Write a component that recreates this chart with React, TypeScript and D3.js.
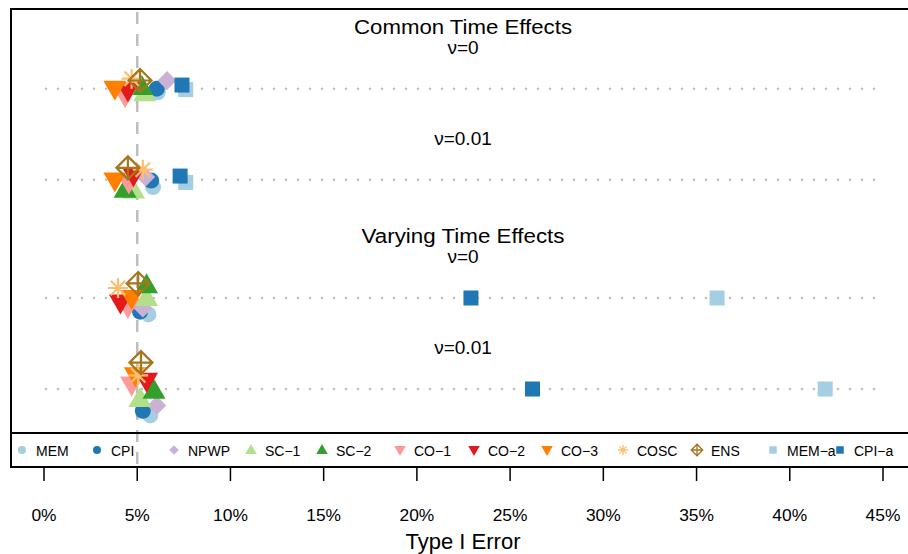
import React from "react";
import * as d3 from "d3";

// methods in legend / drawing order
const methods = ["MEM", "CPI", "NPWP", "SC-1", "SC-2", "CO-1", "CO-2", "CO-3", "COSC", "ENS", "MEM-a", "CPI-a"];
const colors = ["#A6CEE3", "#1F78B4", "#CAB2D6", "#B2DF8A", "#33A02C", "#FB9A99", "#E31A1C", "#FF7F00", "#FDBF6F", "#A6761D", "#A6CEE3", "#1F78B4"];
const shapes = ["circle", "circle", "diamond", "up", "up", "down", "down", "down", "star", "ens", "square", "square"];

// settings (rows), top to bottom
const rowLabels = ["ν=0", "ν=0.01", "ν=0", "ν=0.01"];
const rowPos = [4.3, 3.3, 2, 1];
const groupTitles = ["Common Time Effects", "", "Varying Time Effects", ""];

// type I error (%) per row, per method
const errCommon0 = [6.1, 6.05, 6.6, 5.4, 5.25, 4.35, 4.5, 3.8, 4.7, 5.15, 7.6, 7.4];
const errCommon001 = [5.85, 5.75, 5.45, 4.8, 4.35, 4.55, 4.8, 3.8, 5.3, 4.5, 7.6, 7.3];
const errVarying0 = [5.6, 5.15, 5.3, 5.5, 5.5, 4.5, 4.1, 4.7, 3.97, 5.05, 36.1, 22.9];
const errVarying001 = [5.7, 5.3, 6.05, 5.15, 5.9, 4.7, 5.5, 4.9, 5.05, 5.2, 41.9, 26.2];
const errors = [errCommon0, errCommon001, errVarying0, errVarying001];

// vertical jitter (row units, positive = down)
const jitCommon0 = [0.04, 0, -0.09, 0.05, -0.02, 0.08, 0.02, 0, -0.11, -0.09, 0.01, -0.04];
const jitCommon001 = [0.08, 0.01, -0.03, 0.12, 0.11, 0.03, -0.05, 0.01, -0.11, -0.13, 0.03, -0.04];
const jitVarying0 = [0.18, 0.15, 0.11, 0, -0.14, 0.1, 0.05, 0, -0.11, -0.16, 0, 0];
const jitVarying001 = [0.29, 0.24, 0.18, 0.11, 0.02, -0.05, -0.09, -0.15, -0.15, -0.29, 0, 0];
const jitters = [jitCommon0, jitCommon001, jitVarying0, jitVarying001];

const xTicks = [0, 5, 10, 15, 20, 25, 30, 35, 40, 45];
const legendX = [22, 97, 174, 251, 322, 400, 474, 547, 623, 697, 773, 840];
const titleWidths = [218, 0, 203, 0];

const W = 908;
const H = 554;
const FONT = "'Liberation Sans', Arial, Helvetica, sans-serif";

const x = d3.scaleLinear().domain([0, 45]).range([44, 883]);
const y = d3.scaleLinear().domain([1, 2]).range([389, 298]);

function Marker({ shape, color, cx, cy, s }: { shape: string; color: string; cx: number; cy: number; s: number }) {
  switch (shape) {
    case "circle":
      return <circle cx={cx} cy={cy} r={8 * s} fill={color} />;
    case "square":
      return <rect x={cx - 7.5 * s} y={cy - 7.5 * s} width={15 * s} height={15 * s} fill={color} />;
    case "diamond": {
      const r = 9.5 * s;
      return <path d={`M${cx},${cy - r}L${cx + r},${cy}L${cx},${cy + r}L${cx - r},${cy}Z`} fill={color} />;
    }
    case "up": {
      const w = 11.5 * s;
      const h = 20 * s;
      return <path d={`M${cx},${cy - h * 0.6}L${cx + w},${cy + h * 0.4}L${cx - w},${cy + h * 0.4}Z`} fill={color} />;
    }
    case "down": {
      const w = 11.5 * s;
      const h = 20 * s;
      return <path d={`M${cx},${cy + h * 0.6}L${cx + w},${cy - h * 0.4}L${cx - w},${cy - h * 0.4}Z`} fill={color} />;
    }
    case "star": {
      const r = 10 * s;
      const d = r * 0.72;
      return (
        <path
          d={`M${cx - r},${cy}L${cx + r},${cy}M${cx},${cy - r}L${cx},${cy + r}M${cx - d},${cy - d}L${cx + d},${cy + d}M${cx - d},${cy + d}L${cx + d},${cy - d}`}
          stroke={color}
          strokeWidth={2.2 * Math.max(s, 0.6)}
          fill="none"
        />
      );
    }
    case "ens": {
      const r = 11.5 * s;
      return (
        <path
          d={`M${cx},${cy - r}L${cx + r},${cy}L${cx},${cy + r}L${cx - r},${cy}ZM${cx - r},${cy}L${cx + r},${cy}M${cx},${cy - r}L${cx},${cy + r}`}
          stroke={color}
          strokeWidth={2.2 * Math.max(s, 0.6)}
          fill="none"
        />
      );
    }
    default:
      return null;
  }
}

export default function App() {
  const rows = errors.map((errs, r) => ({ errs, jit: jitters[r], pos: rowPos[r] }));
  return (
    <svg width={W} height={H} style={{ position: "absolute", left: 0, top: 0, background: "#fff" }} fontFamily={FONT}>
      <rect width={W} height={H} fill="#fff" />
      {/* reference line at nominal 5% */}
      <line x1={x(5)} x2={x(5)} y1={9} y2={467} stroke="#BEBEBE" strokeWidth={2.5} strokeDasharray="12,10" strokeDashoffset={-3} />

      {/* row guides */}
      {rowPos.map((p, i) => (
        <line key={i} x1={x(0) + 2} x2={x(45)} y1={y(p)} y2={y(p)} stroke="#BEBEBE" strokeWidth={2.6} strokeLinecap="round" strokeDasharray="0,12" />
      ))}

      {/* titles */}
      {rowPos.map((p, i) => (
        <g key={i}>
          {groupTitles[i] && (
            <text x={463} y={y(p) - 55} textAnchor="middle" fontSize={19.5} textLength={titleWidths[i]} lengthAdjust="spacingAndGlyphs">
              {groupTitles[i]}
            </text>
          )}
          <text x={463} y={y(p) - 35} textAnchor="middle" fontSize={19}>
            {rowLabels[i]}
          </text>
        </g>
      ))}

      {/* points */}
      {rows.map((row, r) =>
        methods.map((m, k) => (
          <Marker key={`${r}-${m}`} shape={shapes[k]} color={colors[k]} cx={x(row.errs[k])} cy={y(row.pos - row.jit[k])} s={1} />
        ))
      )}

      {/* legend */}
      <line x1={11} x2={W} y1={433} y2={433} stroke="#000" strokeWidth={2} />
      {methods.map((m, k) => (
        <g key={m}>
          <Marker shape={shapes[k]} color={colors[k]} cx={legendX[k]} cy={450} s={0.5} />
          <text x={legendX[k] + 14} y={455.5} fontSize={14}>
            {m.replace("-", "\u2212")}
          </text>
        </g>
      ))}

      {/* box */}
      <path d={`M${W},9H11V467H${W}`} fill="none" stroke="#000" strokeWidth={2} />

      {/* x axis */}
      {xTicks.map((t) => (
        <g key={t}>
          <line x1={x(t)} x2={x(t)} y1={467} y2={481} stroke="#000" strokeWidth={1.5} />
          <text x={x(t)} y={521} textAnchor="middle" fontSize={17.4}>
            {t}%
          </text>
        </g>
      ))}
      <text x={463} y={549} textAnchor="middle" fontSize={22}>
        Type I Error
      </text>
    </svg>
  );
}
